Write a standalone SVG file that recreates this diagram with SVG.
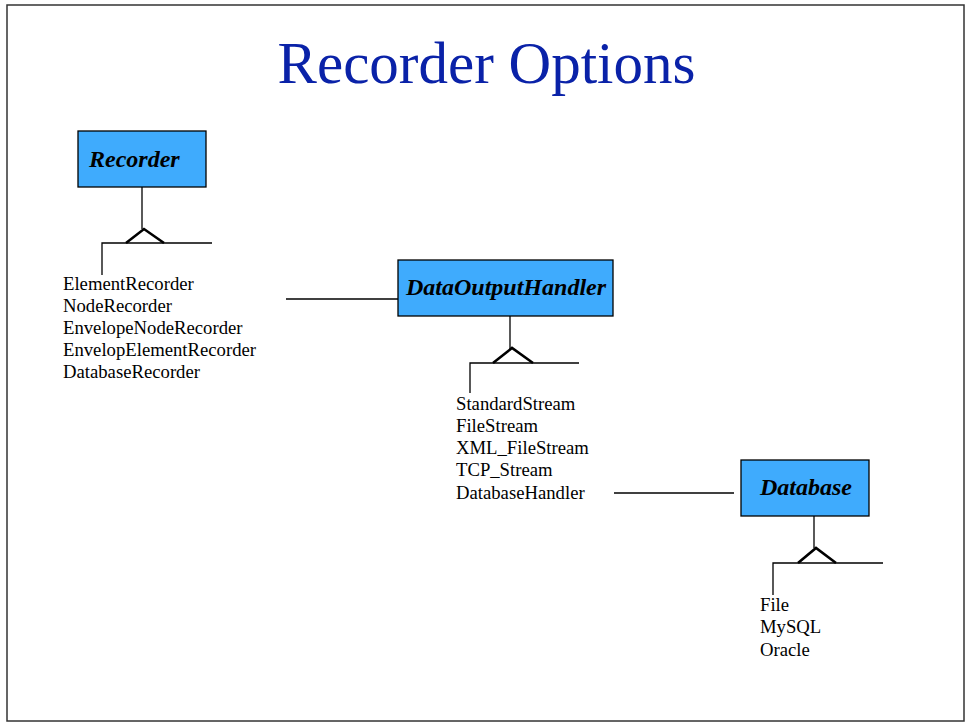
<svg xmlns="http://www.w3.org/2000/svg" width="966" height="724" viewBox="0 0 966 724">
  <style>
    .frame { fill: #ffffff; stroke: #333333; stroke-width: 1.5; }
    .title { font-family: "Liberation Serif", "Times New Roman", serif; font-size: 59px; fill: #0a22a8; }
    .box { fill: #3fabfd; stroke: #000000; stroke-width: 1.3; }
    .boxlabel { font-family: "Liberation Serif", "Times New Roman", serif; font-size: 24px; font-weight: bold; font-style: italic; fill: #000000; }
    .item { font-family: "Liberation Serif", "Times New Roman", serif; font-size: 18.7px; fill: #000000; }
    .wire { fill: none; stroke: #000000; stroke-width: 1.3; }
    .tri { fill: none; stroke: #000000; stroke-width: 2.6; stroke-linejoin: miter; }
  </style>

  <rect class="frame" x="7" y="5" width="957" height="716"/>
  <text class="title" x="486.5" y="83" text-anchor="middle">Recorder Options</text>

  <g id="connectors">
    <!-- Recorder generalisation -->
    <path class="wire" d="M142 187 V229"/>
    <path class="tri" d="M126 243 L144 229 L164 243"/>
    <path class="wire" d="M102 275 V243 H212"/>
    <!-- DataOutputHandler generalisation -->
    <path class="wire" d="M510 316 V349"/>
    <path class="tri" d="M493 363 L512 348 L533 363"/>
    <path class="wire" d="M470 393 V363 H579"/>
    <!-- Database generalisation -->
    <path class="wire" d="M814 516 V548"/>
    <path class="tri" d="M798 563 L816 548 L836 563"/>
    <path class="wire" d="M773 595 V563 H883"/>
    <!-- links between subtypes and handlers -->
    <path class="wire" d="M286 299 H398"/>
    <path class="wire" d="M614 493 H734"/>
  </g>

  <g id="recorder">
    <rect class="box" x="78" y="131" width="128" height="56"/>
    <text class="boxlabel" x="89" y="167">Recorder</text>
  </g>

  <g id="recorder-types">
    <text class="item" x="63" y="290">ElementRecorder</text>
    <text class="item" x="63" y="312">NodeRecorder</text>
    <text class="item" x="63" y="334">EnvelopeNodeRecorder</text>
    <text class="item" x="63" y="356">EnvelopElementRecorder</text>
    <text class="item" x="63" y="378">DatabaseRecorder</text>
  </g>

  <g id="data-output-handler">
    <rect class="box" x="398" y="260" width="215" height="56"/>
    <text class="boxlabel" x="406" y="295">DataOutputHandler</text>
  </g>

  <g id="handler-types">
    <text class="item" x="456" y="410">StandardStream</text>
    <text class="item" x="456" y="432">FileStream</text>
    <text class="item" x="456" y="454">XML_FileStream</text>
    <text class="item" x="456" y="476">TCP_Stream</text>
    <text class="item" x="456" y="499">DatabaseHandler</text>
  </g>

  <g id="database">
    <rect class="box" x="741" y="460" width="128" height="56"/>
    <text class="boxlabel" x="760" y="495">Database</text>
  </g>

  <g id="database-types">
    <text class="item" x="760" y="611">File</text>
    <text class="item" x="760" y="633">MySQL</text>
    <text class="item" x="760" y="656">Oracle</text>
  </g>
</svg>
